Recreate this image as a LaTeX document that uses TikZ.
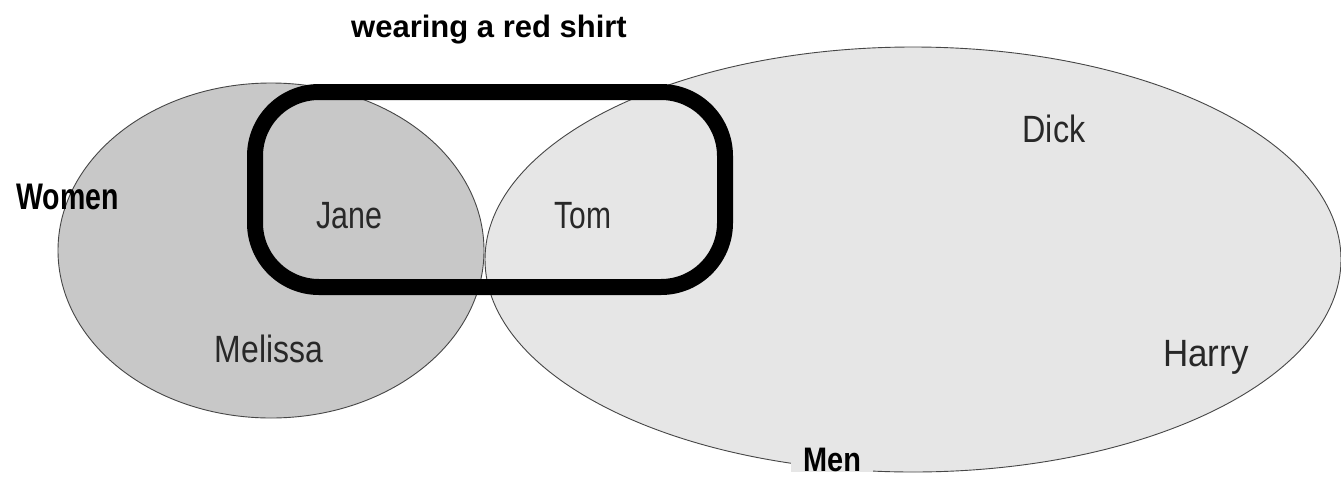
\documentclass[tikz,border=0pt]{standalone}
\usepackage{fontspec}
\setmainfont{Liberation Sans}
\usepackage{graphicx}
\usetikzlibrary{shapes.geometric}
\definecolor{womenfill}{RGB}{200,200,200}
\definecolor{menfill}{RGB}{230,230,230}
\definecolor{edgegray}{RGB}{70,70,70}
\definecolor{namegray}{RGB}{40,40,40}
\begin{document}
\begin{tikzpicture}[x=1pt,y=-1pt,
  setshape/.style={ellipse, draw=edgegray, line width=0.9pt, inner sep=0pt, outer sep=0pt},
  lbl/.style={inner sep=0pt, anchor=base, text=namegray, font=\fontsize{38}{40}\selectfont},
  heading/.style={inner sep=0pt, anchor=base, text=black, font=\fontsize{31}{34}\selectfont\bfseries},
  shirtbox/.style={draw=black, line width=16pt, rounded corners=64pt, inner sep=0pt}]
\useasboundingbox (0,0) rectangle (1341,477);
\fill[white] (0,0) rectangle (1341,477);
% sets
\node[setshape, fill=womenfill, minimum width=426pt, minimum height=335pt] (women) at (271,250.5) {};
\node[setshape, fill=menfill, minimum width=856pt, minimum height=425pt] (men) at (913,259.5) {};
% wearing a red shirt
\node[shirtbox, minimum width=470pt, minimum height=195pt] (shirt) at (490,189.5) {};
% labels
\node[heading] (shirtlbl) at (489,37) {wearing a red shirt};
\node[heading, font=\fontsize{37}{40}\selectfont\bfseries] (womenlbl) at (67.5,209) {\scalebox{0.77}[1]{Women}};
\node[heading, font=\fontsize{34}{38}\selectfont\bfseries, fill=menfill, inner xsep=12pt, inner ysep=0.5pt] (menlbl) at (832,471) {\scalebox{0.85}[1]{Men}};
\node[lbl] (jane) at (349,228) {\scalebox{0.8}[1]{Jane}};
\node[lbl] (tom) at (583,228) {\scalebox{0.79}[1]{Tom}};
\node[lbl] (dick) at (1054,142) {\scalebox{0.85}[1]{Dick}};
\node[lbl] (melissa) at (269,362) {\scalebox{0.84}[1]{Melissa}};
\node[lbl] (harry) at (1206,366) {\scalebox{0.92}[1]{Harry}};
\end{tikzpicture}
\end{document}
